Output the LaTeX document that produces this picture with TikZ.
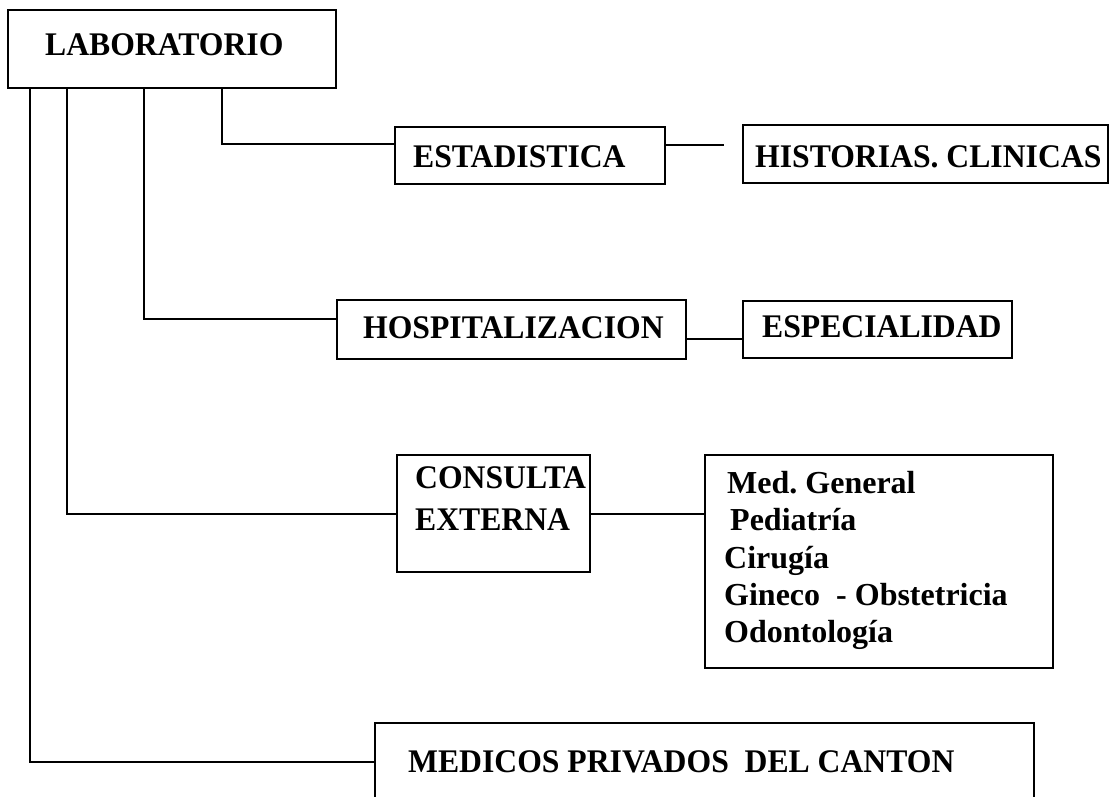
\documentclass[tikz,border=0pt]{standalone}
\usepackage{fontspec}
\setmainfont{Liberation Serif}
\usetikzlibrary{calc}
\frenchspacing
\newcommand\lt[1]{\scalebox{0.96}[1]{#1}}
\begin{document}
\begin{tikzpicture}[x=1pt,y=-1pt,
  box/.style={draw, line width=2pt, inner sep=0pt, outer sep=0pt, anchor=north west},
  lbl/.style={anchor=base west, inner sep=0pt, font=\bfseries\fontsize{33}{33}\selectfont},
  item/.style={anchor=base west, inner sep=0pt, font=\bfseries\fontsize{32}{32}\selectfont},
  conn/.style={line width=2pt}]
\path[use as bounding box, clip] (0,0) rectangle (1112,796);
\fill[white] (0,0) rectangle (1112,796);
% boxes
\node[box, minimum width=328pt, minimum height=78pt] (lab) at (8,10) {};
\node[box, minimum width=270pt, minimum height=57pt] (est) at (395,127) {};
\node[box, minimum width=365pt, minimum height=58pt] (hist) at (743,125) {};
\node[box, minimum width=349pt, minimum height=59pt] (hosp) at (337,300) {};
\node[box, minimum width=269pt, minimum height=57pt] (esp) at (743,301) {};
\node[box, minimum width=193pt, minimum height=117pt] (cons) at (397,455) {};
\node[box, minimum width=348pt, minimum height=213pt] (list) at (705,455) {};
\node[box, minimum width=659pt, minimum height=78pt] (med) at (375,723) {};
% texts
\node[lbl] (tlab) at (45,55) {\lt{LABORATORIO}};
\node[lbl] (test) at (413,167) {\lt{ESTADISTICA}};
\node[lbl] (thist) at (755,167) {\lt{HISTORIAS. CLINICAS}};
\node[lbl] (thosp) at (363,338) {\lt{HOSPITALIZACION}};
\node[lbl] (tesp) at (762,337) {\lt{ESPECIALIDAD}};
\node[lbl] (tcons1) at (415,488) {\lt{CONSULTA}};
\node[lbl] (tcons2) at (415,530) {\lt{EXTERNA}};
\node[item] (i1) at (727,493) {Med. General};
\node[item] (i2) at (730,530) {Pediatría};
\node[item] (i3) at (724,568) {Cirugía};
\node[item] (i4) at (724,605) {Gineco\ \ - Obstetricia};
\node[item] (i5) at (724,642) {Odontología};
\node[lbl] (tmed) at (408,772) {\lt{MEDICOS PRIVADOS\ \ DEL CANTON}};
% connector start points on LABORATORIO
\coordinate (l1) at ($(lab.south west)+(22,0)$);
\coordinate (l2) at ($(lab.south west)+(59,0)$);
\coordinate (l3) at ($(lab.south west)+(136,0)$);
\coordinate (l4) at ($(lab.south west)+(214,0)$);
\draw[conn] (l1) |- (med.west);
\draw[conn] (l2) |- (cons.west);
\draw[conn] (l3) |- ($(hosp.north west)!0.32!(hosp.south west)$);
\draw[conn] (l4) |- ($(est.north west)!0.3!(est.south west)$);
\coordinate (e1) at ($(est.north east)!0.32!(est.south east)$);
\coordinate (e2) at ($(e1)+(59,0)$);
\draw[conn] (e1) -- (e2);
\coordinate (h1) at ($(hosp.north east)!0.66!(hosp.south east)$);
\draw[conn] (h1) -- (h1 -| esp.west);
\draw[conn] (cons.east) -- (cons.east -| list.west);
\end{tikzpicture}
\end{document}
